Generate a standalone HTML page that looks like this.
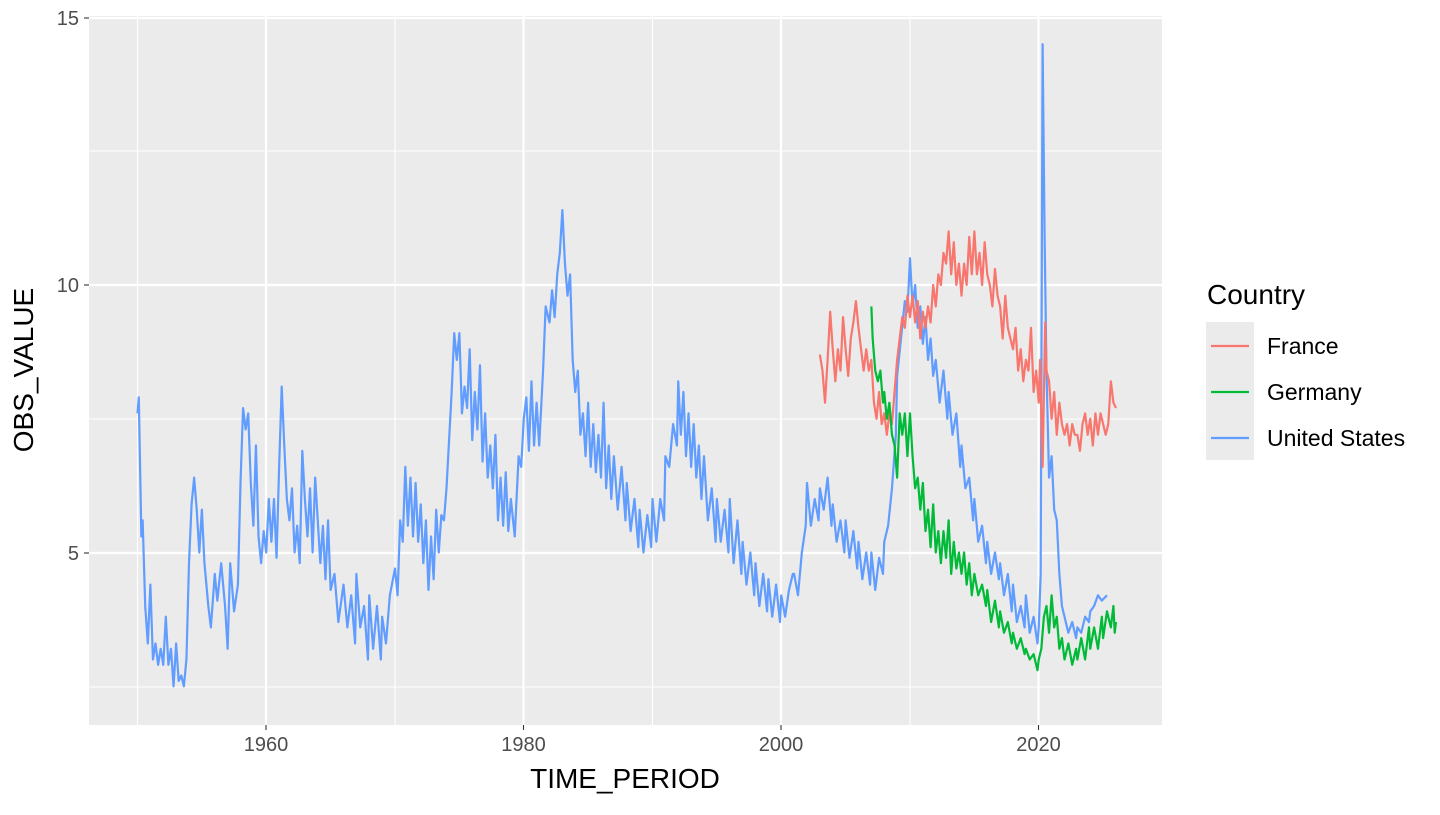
<!DOCTYPE html>
<html><head><meta charset="utf-8"><style>
body{margin:0;background:#fff;}
svg text{font-family:"Liberation Sans",Arial,sans-serif;}
</style></head><body>
<svg width="1440" height="810" viewBox="0 0 1440 810" xmlns="http://www.w3.org/2000/svg">
<rect x="89" y="16" width="1073" height="709" fill="#ebebeb"/>
<g stroke="#fff" stroke-width="1.1">
<line x1="89" x2="1162" y1="151" y2="151"/><line x1="89" x2="1162" y1="419" y2="419"/><line x1="89" x2="1162" y1="687" y2="687"/>
<line y1="16" y2="725" x1="137.5" x2="137.5"/><line y1="16" y2="725" x1="395" x2="395"/><line y1="16" y2="725" x1="652.5" x2="652.5"/><line y1="16" y2="725" x1="910" x2="910"/>
</g>
<g stroke="#fff" stroke-width="2.2">
<line x1="89" x2="1162" y1="18" y2="18"/><line x1="89" x2="1162" y1="285" y2="285"/><line x1="89" x2="1162" y1="553" y2="553"/>
<line y1="16" y2="725" x1="266" x2="266"/><line y1="16" y2="725" x1="523.5" x2="523.5"/><line y1="16" y2="725" x1="781" x2="781"/><line y1="16" y2="725" x1="1038.5" x2="1038.5"/>
</g>
<g fill="none" stroke-width="2.2" stroke-linejoin="round" transform="matrix(12.875,0,0,-53.5,-24968.75,820)">
<polyline vector-effect="non-scaling-stroke" stroke="#619cff" points="1950,7.6 1950.1,7.9 1950.3,5.3 1950.4,5.6 1950.6,4.0 1950.8,3.3 1951,4.4 1951.2,3.0 1951.4,3.3 1951.6,2.9 1951.8,3.2 1952,2.9 1952.2,3.8 1952.4,2.9 1952.6,3.2 1952.8,2.5 1953,3.3 1953.2,2.6 1953.4,2.7 1953.6,2.5 1953.8,3.0 1954,4.8 1954.2,5.9 1954.4,6.4 1954.6,5.8 1954.8,5.0 1955,5.8 1955.2,4.8 1955.5,4.0 1955.7,3.6 1956,4.6 1956.2,4.1 1956.5,4.8 1956.8,4.0 1957,3.2 1957.2,4.8 1957.5,3.9 1957.8,4.4 1958,6.3 1958.2,7.7 1958.4,7.3 1958.6,7.6 1958.8,6.3 1959,5.5 1959.2,7.0 1959.4,5.3 1959.6,4.8 1959.8,5.4 1960,5.0 1960.2,6.0 1960.4,5.2 1960.6,6.0 1960.8,4.9 1961,6.6 1961.2,8.1 1961.4,7.0 1961.6,6.0 1961.8,5.6 1962,6.2 1962.2,5.0 1962.4,5.5 1962.6,4.8 1962.8,6.9 1963,6.0 1963.2,5.3 1963.4,6.2 1963.6,5.0 1963.8,6.4 1964,5.6 1964.2,4.8 1964.4,5.5 1964.6,4.5 1964.8,5.6 1965,4.3 1965.3,4.6 1965.6,3.7 1966,4.4 1966.3,3.6 1966.6,4.2 1966.9,3.3 1967,4.6 1967.3,3.6 1967.6,4.0 1967.9,3.0 1968,4.2 1968.3,3.2 1968.6,4.0 1968.9,3.0 1969,3.8 1969.3,3.3 1969.6,4.2 1970,4.7 1970.2,4.2 1970.4,5.6 1970.6,5.2 1970.8,6.6 1971,5.5 1971.2,6.4 1971.4,5.3 1971.6,6.3 1971.8,5.2 1972,5.9 1972.2,4.8 1972.4,5.6 1972.6,4.3 1972.8,5.3 1973,4.5 1973.2,5.8 1973.4,5.0 1973.6,5.7 1973.8,5.6 1974,6.2 1974.4,8.0 1974.6,9.1 1974.8,8.6 1975,9.1 1975.2,7.6 1975.4,8.1 1975.6,7.7 1975.8,8.8 1976,7.1 1976.2,8.0 1976.4,7.3 1976.6,8.5 1976.8,6.7 1977,7.6 1977.2,6.4 1977.4,7.0 1977.6,6.2 1977.8,7.2 1978,5.6 1978.2,6.4 1978.4,5.5 1978.6,6.5 1978.8,5.4 1979,6.0 1979.3,5.3 1979.6,6.8 1979.8,6.6 1980,7.5 1980.2,7.9 1980.4,6.9 1980.6,8.2 1980.8,7.0 1981,7.8 1981.2,7.0 1981.5,8.4 1981.7,9.6 1982,9.3 1982.2,9.9 1982.4,9.4 1982.6,10.2 1982.8,10.6 1983,11.4 1983.2,10.4 1983.4,9.8 1983.6,10.2 1983.8,8.6 1984,8.0 1984.2,8.4 1984.4,7.2 1984.6,7.6 1984.8,6.8 1985,7.8 1985.2,6.6 1985.4,7.4 1985.6,6.5 1985.8,7.2 1986,6.4 1986.2,7.8 1986.4,6.2 1986.6,7.0 1986.8,6.0 1987,6.8 1987.3,5.8 1987.6,6.6 1987.9,5.6 1988,6.3 1988.3,5.4 1988.6,6.0 1988.9,5.1 1989,5.8 1989.3,5.0 1989.6,5.7 1989.9,5.1 1990,6.0 1990.3,5.2 1990.6,6.0 1990.9,5.6 1991,6.8 1991.3,6.6 1991.6,7.4 1991.9,7.0 1992,8.2 1992.2,7.2 1992.4,8.0 1992.6,6.8 1992.8,7.6 1993,6.6 1993.2,7.4 1993.4,6.4 1993.6,7.0 1993.8,6.0 1994,6.8 1994.3,5.6 1994.6,6.2 1994.9,5.2 1995,6.0 1995.3,5.2 1995.6,5.8 1995.9,5.0 1996,6.0 1996.3,4.8 1996.6,5.6 1996.9,4.6 1997,5.2 1997.3,4.4 1997.6,5.0 1997.9,4.2 1998,4.8 1998.3,4.0 1998.6,4.6 1998.9,3.9 1999,4.5 1999.3,3.8 1999.6,4.4 1999.9,3.7 2000,4.2 2000.3,3.8 2000.6,4.3 2000.9,4.6 2001,4.6 2001.3,4.2 2001.6,5.0 2001.9,5.5 2002,6.3 2002.3,5.5 2002.6,6.0 2002.9,5.6 2003,6.2 2003.3,5.8 2003.6,6.4 2003.9,5.5 2004,5.9 2004.3,5.2 2004.6,5.6 2004.9,5.0 2005,5.6 2005.3,4.9 2005.6,5.4 2005.9,4.7 2006,5.2 2006.3,4.5 2006.6,5.0 2006.9,4.4 2007,5.0 2007.3,4.3 2007.6,4.9 2007.9,4.6 2008,5.2 2008.3,5.5 2008.6,6.2 2008.9,7.2 2009,8.3 2009.3,9.0 2009.6,9.7 2009.8,9.5 2010,10.5 2010.2,9.6 2010.4,10.0 2010.6,9.2 2010.8,9.6 2011,8.9 2011.2,9.4 2011.4,8.6 2011.6,9.0 2011.8,8.3 2012,8.6 2012.3,7.8 2012.6,8.4 2012.9,7.5 2013,8.0 2013.3,7.2 2013.6,7.6 2013.9,6.6 2014,7.0 2014.3,6.2 2014.6,6.4 2014.9,5.6 2015,6.0 2015.3,5.2 2015.6,5.5 2015.9,4.8 2016,5.2 2016.3,4.6 2016.6,5.0 2016.9,4.5 2017,4.8 2017.3,4.2 2017.6,4.6 2017.9,3.9 2018,4.4 2018.3,3.7 2018.6,4.0 2018.9,3.6 2019,4.2 2019.3,3.5 2019.6,3.8 2019.9,3.3 2020,3.6 2020.15,4.6 2020.3,14.5 2020.45,11.0 2020.6,8.4 2020.8,6.4 2021,6.8 2021.2,5.8 2021.4,5.6 2021.6,4.6 2021.8,4.0 2022,3.8 2022.3,3.5 2022.6,3.7 2022.9,3.4 2023,3.6 2023.3,3.5 2023.6,3.8 2023.9,3.7 2024,3.9 2024.3,4.0 2024.6,4.2 2024.9,4.1 2025.3,4.2"/>
<polyline vector-effect="non-scaling-stroke" stroke="#f8766d" points="2003,8.7 2003.2,8.4 2003.4,7.8 2003.6,8.6 2003.8,9.5 2004,8.8 2004.2,8.2 2004.4,8.8 2004.6,8.4 2004.8,9.4 2005,8.8 2005.2,8.3 2005.4,9.0 2005.6,9.3 2005.8,9.7 2006,9.2 2006.2,8.8 2006.4,8.4 2006.6,8.8 2006.8,8.4 2007,8.6 2007.2,7.8 2007.4,7.5 2007.6,8.0 2007.8,7.4 2008,7.6 2008.2,7.2 2008.4,7.6 2008.6,7.4 2008.8,8.0 2009,8.6 2009.2,9.0 2009.4,9.4 2009.6,9.2 2009.8,9.8 2010,9.4 2010.2,9.8 2010.4,9.3 2010.6,9.7 2010.8,9.0 2011,9.5 2011.2,9.2 2011.4,9.6 2011.6,9.3 2011.8,10.0 2012,9.6 2012.2,10.2 2012.4,10.0 2012.6,10.6 2012.8,10.4 2013,11.0 2013.2,10.2 2013.4,10.8 2013.6,10.0 2013.8,10.4 2014,9.8 2014.2,10.4 2014.4,10.0 2014.6,10.9 2014.8,10.2 2015,11.0 2015.2,10.2 2015.4,10.6 2015.6,10.0 2015.8,10.8 2016,10.2 2016.2,10.0 2016.4,9.6 2016.6,10.3 2016.8,9.8 2017,9.6 2017.2,9.0 2017.4,9.8 2017.6,9.2 2017.8,9.0 2018,8.8 2018.2,9.2 2018.4,8.4 2018.6,8.8 2018.8,8.2 2019,8.6 2019.2,8.4 2019.4,9.2 2019.6,8.0 2019.8,8.4 2020,7.8 2020.1,8.6 2020.3,6.6 2020.5,9.3 2020.6,8.4 2020.8,8.2 2021,7.5 2021.2,8.0 2021.4,7.2 2021.6,7.8 2021.8,7.4 2022,7.2 2022.2,7.4 2022.4,7.0 2022.6,7.4 2022.8,7.2 2023,7.2 2023.2,6.9 2023.4,7.4 2023.6,7.6 2023.8,7.2 2024,7.5 2024.2,7.0 2024.4,7.6 2024.6,7.2 2024.8,7.6 2025,7.4 2025.2,7.2 2025.4,7.4 2025.6,8.2 2025.8,7.8 2026,7.7"/>
<polyline vector-effect="non-scaling-stroke" stroke="#00ba38" points="2007,9.6 2007.1,9.0 2007.3,8.4 2007.5,8.2 2007.7,8.4 2007.9,7.8 2008,8.0 2008.2,7.5 2008.4,7.8 2008.6,7.2 2008.8,7.0 2009,6.4 2009.2,7.6 2009.4,7.2 2009.6,7.6 2009.8,6.8 2010,7.6 2010.2,6.8 2010.4,6.2 2010.6,6.4 2010.8,5.8 2011,6.3 2011.2,5.4 2011.4,5.8 2011.6,5.1 2011.8,5.9 2012,5.0 2012.2,5.4 2012.4,4.8 2012.6,5.4 2012.8,4.9 2013,5.6 2013.2,4.6 2013.4,5.2 2013.6,4.7 2013.8,5.0 2014,4.6 2014.2,5.0 2014.4,4.4 2014.6,4.8 2014.8,4.2 2015,4.6 2015.3,4.2 2015.6,4.4 2015.9,4.0 2016,4.3 2016.3,3.7 2016.6,4.1 2016.9,3.6 2017,3.9 2017.3,3.5 2017.6,3.7 2017.9,3.3 2018,3.5 2018.3,3.2 2018.6,3.4 2018.9,3.1 2019,3.2 2019.3,3.0 2019.6,3.1 2019.9,2.8 2020,3.0 2020.2,3.2 2020.4,3.8 2020.6,4.0 2020.8,3.5 2021,4.2 2021.2,3.6 2021.4,3.8 2021.6,3.2 2021.8,3.4 2022,3.0 2022.3,3.3 2022.6,2.9 2022.9,3.2 2023,3.0 2023.3,3.4 2023.6,3.0 2023.9,3.6 2024,3.2 2024.3,3.6 2024.6,3.2 2024.9,3.8 2025,3.4 2025.3,3.9 2025.6,3.6 2025.8,4.0 2025.9,3.5 2026,3.7"/>
</g>
<g stroke="#333" stroke-width="1.1">
<line x1="84" x2="89" y1="18" y2="18"/><line x1="84" x2="89" y1="285" y2="285"/><line x1="84" x2="89" y1="553" y2="553"/>
<line x1="266" x2="266" y1="725" y2="730"/><line x1="523.5" x2="523.5" y1="725" y2="730"/><line x1="781" x2="781" y1="725" y2="730"/><line x1="1038.5" x2="1038.5" y1="725" y2="730"/>
</g>
<g fill="#4d4d4d" font-size="20">
<text x="79" y="25" text-anchor="end">15</text><text x="79" y="292" text-anchor="end">10</text><text x="79" y="560" text-anchor="end">5</text>
<text x="266" y="751" text-anchor="middle">1960</text><text x="523.5" y="751" text-anchor="middle">1980</text><text x="781" y="751" text-anchor="middle">2000</text><text x="1038.5" y="751" text-anchor="middle">2020</text>
</g>
<text x="625" y="788" font-size="28" text-anchor="middle" fill="#000">TIME_PERIOD</text>
<text transform="translate(33,370) rotate(-90)" font-size="28" text-anchor="middle" fill="#000">OBS_VALUE</text>
<text x="1207" y="304" font-size="28" fill="#000">Country</text>
<rect x="1206" y="322" width="48" height="138" fill="#ebebeb"/>
<g stroke-width="2.2"><line x1="1211" x2="1249" y1="346" y2="346" stroke="#f8766d"/><line x1="1211" x2="1249" y1="392" y2="392" stroke="#00ba38"/><line x1="1211" x2="1249" y1="438" y2="438" stroke="#619cff"/></g>
<g font-size="23" fill="#000"><text x="1267" y="354">France</text><text x="1267" y="400">Germany</text><text x="1267" y="446">United States</text></g>
</svg>
</body></html>
